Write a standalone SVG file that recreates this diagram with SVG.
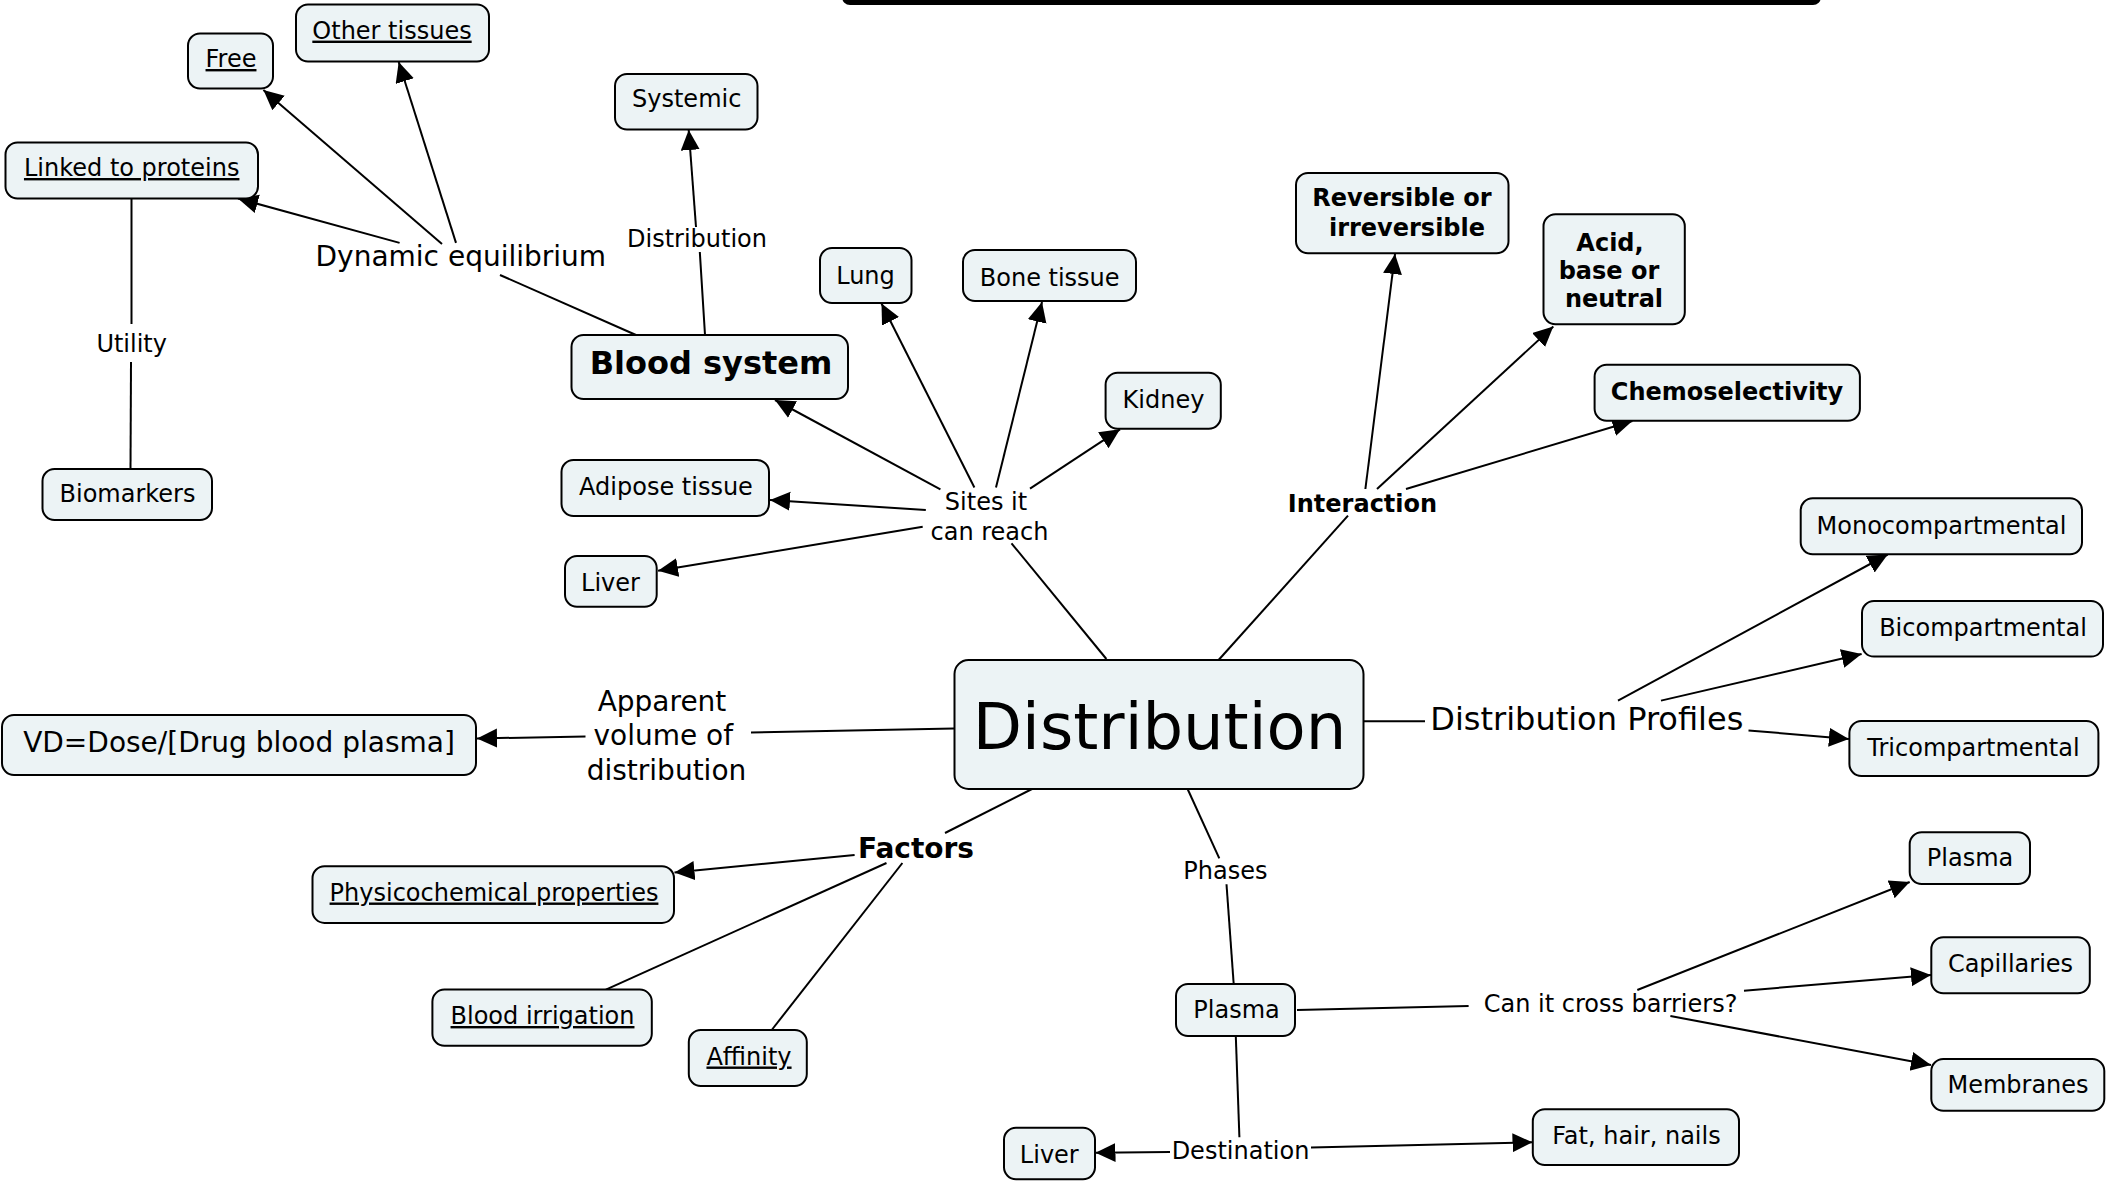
<svg xmlns="http://www.w3.org/2000/svg" width="2110" height="1191" viewBox="0 0 2110 1191">
<style>
.n rect{fill:#ecf3f5;stroke:#000;stroke-width:2}
text{font-family:"DejaVu Sans",Verdana,"Liberation Sans",sans-serif;font-size:24px;text-anchor:middle;fill:#000}
.b{font-weight:bold}
.u{text-decoration:underline}
.c path{fill:none;stroke:#000;stroke-width:2}
.c path.a{marker-end:url(#arr)}
</style>
<defs>
<marker id="arr" markerUnits="userSpaceOnUse" markerWidth="22" markerHeight="20" refX="20" refY="9.5" orient="auto">
<path d="M0,0 L20,9.5 L0,19 z" fill="#000"/>
</marker>
</defs>
<rect width="2110" height="1191" fill="#fff"/>
<rect x="842" y="-40" width="979" height="45" rx="8" fill="#000"/>

<g id="connectors" class="c">
<path d="M636,335 L500,275"/>
<path d="M131.5,198.5 L131.5,324"/>
<path d="M131,362 L130.5,468.5"/>
<path d="M705,335 L699.8,252"/>
<path d="M1106.4,659 L1011.5,543.3"/>
<path d="M1218.6,660 L1348,515.7"/>
<path d="M1364,721.3 L1425,721.3"/>
<path d="M954,728.5 L751,732.4"/>
<path d="M1032,789 L945,833"/>
<path d="M886.5,863 L605.9,989.6"/>
<path d="M902.4,863 L771.7,1030"/>
<path d="M1187.6,789 L1219.3,858.3"/>
<path d="M1226.5,884.3 L1233.7,984"/>
<path d="M1297,1010 L1468.6,1006"/>
<path d="M1235.8,1036 L1239.4,1137.3"/>
<path class="a" d="M399.6,242.9 L238,198.5"/>
<path class="a" d="M442,244 L263.4,90"/>
<path class="a" d="M456,242.9 L398.7,62"/>
<path class="a" d="M696,227 L688.7,130"/>
<path class="a" d="M940.4,489.3 L775,400"/>
<path class="a" d="M974.4,487.5 L881.5,303.5"/>
<path class="a" d="M996,487.5 L1042,302"/>
<path class="a" d="M1030,488.6 L1120,429.3"/>
<path class="a" d="M925.8,510 L770,500"/>
<path class="a" d="M922.7,526.7 L658,570.8"/>
<path class="a" d="M1365.4,489 L1395,254"/>
<path class="a" d="M1377,489 L1553.3,326.5"/>
<path class="a" d="M1406,489 L1632.4,421"/>
<path class="a" d="M1618,700.6 L1887.7,554.5"/>
<path class="a" d="M1661,700.6 L1861.6,654"/>
<path class="a" d="M1748.5,730.4 L1848.9,739"/>
<path class="a" d="M585.5,736.6 L477,738.4"/>
<path class="a" d="M854.6,855 L674.5,872.5"/>
<path class="a" d="M1637.3,990 L1909.7,882"/>
<path class="a" d="M1744,990.7 L1931,975"/>
<path class="a" d="M1670.4,1016 L1931,1065"/>
<path class="a" d="M1170,1152 L1095.5,1152.7"/>
<path class="a" d="M1311,1147.6 L1532.5,1142.3"/>
</g>

<g id="labels">
<text x="460.8" y="266" style="font-size:28px">Dynamic equilibrium</text>
<text x="131.7" y="351.5">Utility</text>
<text x="697" y="247">Distribution</text>
<text x="986" y="510">Sites it</text>
<text x="989.5" y="540">can reach</text>
<text x="1362.5" y="511.5" class="b">Interaction</text>
<text x="1586.8" y="729.6" style="font-size:32px">Distribution Profiles</text>
<text x="662" y="710.5" style="font-size:28px">Apparent</text>
<text x="663.3" y="745" style="font-size:28px">volume of</text>
<text x="666.5" y="779.5" style="font-size:28px">distribution</text>
<text x="916" y="858" class="b" style="font-size:28px">Factors</text>
<text x="1225.4" y="879.3">Phases</text>
<text x="1610.6" y="1011.7">Can it cross barriers?</text>
<text x="1240.5" y="1159.3">Destination</text>
</g>

<g id="n-other" class="n"><rect x="296" y="4.5" width="193" height="57" rx="12"/><text x="392" y="38.6" class="u">Other tissues</text></g>
<g id="n-free" class="n"><rect x="188" y="33.5" width="85" height="55" rx="12"/><text x="231" y="67" class="u">Free</text></g>
<g id="n-linked" class="n"><rect x="5.5" y="142.5" width="252.5" height="56" rx="12"/><text x="131.7" y="176" class="u">Linked to proteins</text></g>
<g id="n-biomarkers" class="n"><rect x="42.5" y="469" width="169.5" height="51" rx="12"/><text x="127.5" y="502">Biomarkers</text></g>
<g id="n-systemic" class="n"><rect x="615" y="74" width="142.5" height="55.5" rx="12"/><text x="686.7" y="107">Systemic</text></g>
<g id="n-blood" class="n"><rect x="571.5" y="335" width="276.5" height="64" rx="12"/><text x="711" y="374.3" class="b" style="font-size:32px">Blood system</text></g>
<g id="n-lung" class="n"><rect x="820" y="248" width="91.5" height="55" rx="12"/><text x="865.5" y="284">Lung</text></g>
<g id="n-bone" class="n"><rect x="963" y="250" width="173" height="51" rx="12"/><text x="1049.7" y="285.7">Bone tissue</text></g>
<g id="n-kidney" class="n"><rect x="1105.6" y="372.8" width="115.2" height="56" rx="12"/><text x="1163.5" y="408.2">Kidney</text></g>
<g id="n-adipose" class="n"><rect x="561.5" y="460" width="207.5" height="56" rx="12"/><text x="666" y="494.6">Adipose tissue</text></g>
<g id="n-liver1" class="n"><rect x="565" y="556" width="91.7" height="50.7" rx="12"/><text x="610.5" y="591">Liver</text></g>
<g id="n-reversible" class="n"><rect x="1296" y="173" width="212.5" height="80.3" rx="12"/><text x="1402" y="206" class="b">Reversible or</text><text x="1407" y="236" class="b">irreversible</text></g>
<g id="n-acid" class="n"><rect x="1543.5" y="214.2" width="141.3" height="110" rx="12"/><text x="1610" y="250.7" class="b">Acid,</text><text x="1609" y="279.3" class="b">base or</text><text x="1614" y="307.3" class="b">neutral</text></g>
<g id="n-chemo" class="n"><rect x="1594.6" y="364.8" width="265.3" height="56" rx="12"/><text x="1727" y="399.6" class="b">Chemoselectivity</text></g>
<g id="n-mono" class="n"><rect x="1800.7" y="498.3" width="281.3" height="56" rx="12"/><text x="1941.5" y="533.5">Monocompartmental</text></g>
<g id="n-bi" class="n"><rect x="1862" y="601" width="241" height="55.6" rx="12"/><text x="1983" y="636.3">Bicompartmental</text></g>
<g id="n-tri" class="n"><rect x="1849.4" y="721" width="249" height="55" rx="12"/><text x="1973.5" y="756">Tricompartmental</text></g>
<g id="n-distribution" class="n"><rect x="954.5" y="660" width="409" height="129" rx="14"/><text x="1159.5" y="749.3" style="font-size:64px">Distribution</text></g>
<g id="n-vd" class="n"><rect x="2" y="715" width="474" height="60" rx="12"/><text x="239" y="751.7" style="font-size:28px">VD=Dose/[Drug blood plasma]</text></g>
<g id="n-physico" class="n"><rect x="312.5" y="866.3" width="361.5" height="56.6" rx="12"/><text x="494" y="900.5" class="u">Physicochemical properties</text></g>
<g id="n-irrigation" class="n"><rect x="432.4" y="989.6" width="219.4" height="56.2" rx="12"/><text x="542.5" y="1024" class="u">Blood irrigation</text></g>
<g id="n-affinity" class="n"><rect x="688.8" y="1030" width="118" height="56" rx="12"/><text x="749" y="1064.5" class="u">Affinity</text></g>
<g id="n-plasma1" class="n"><rect x="1176" y="984" width="119" height="52" rx="12"/><text x="1236.5" y="1018.3">Plasma</text></g>
<g id="n-plasma2" class="n"><rect x="1909.7" y="832.3" width="120.3" height="51.7" rx="12"/><text x="1970" y="866">Plasma</text></g>
<g id="n-capillaries" class="n"><rect x="1931.3" y="937.3" width="158.5" height="56" rx="12"/><text x="2010.5" y="971.5">Capillaries</text></g>
<g id="n-membranes" class="n"><rect x="1931.3" y="1059" width="173" height="51.7" rx="12"/><text x="2018" y="1092.7">Membranes</text></g>
<g id="n-liver2" class="n"><rect x="1004" y="1127.7" width="91" height="51.6" rx="12"/><text x="1049.3" y="1162.7">Liver</text></g>
<g id="n-fat" class="n"><rect x="1532.8" y="1109.3" width="206.2" height="55.7" rx="12"/><text x="1636.5" y="1144">Fat, hair, nails</text></g>
</svg>
